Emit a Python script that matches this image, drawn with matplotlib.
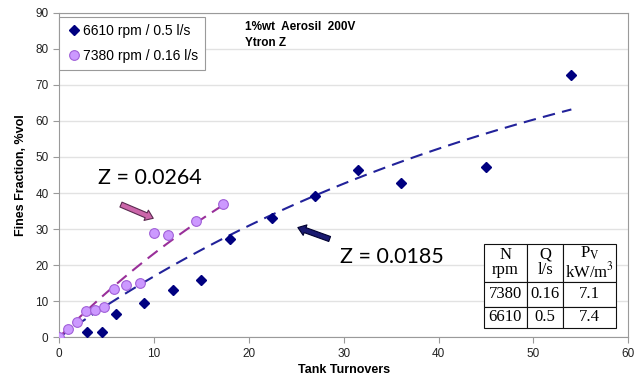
import matplotlib
matplotlib.use("Agg")
import matplotlib.pyplot as plt
import numpy as np
from matplotlib.patches import FancyArrowPatch

# 6610 rpm / 0.5 l/s
turnovers_6610 = [3, 4.5, 6, 9, 12, 15, 18, 22.5, 27, 31.5, 36, 45, 54]
fines_6610 = [1.5, 1.5, 6.6, 9.6, 13.0, 15.8, 27.2, 33.0, 39.2, 46.4, 42.7, 47.3, 72.7]

# 7380 rpm / 0.16 l/s
turnovers_7380 = [0, 0.95, 1.9, 2.85, 3.8, 4.75, 5.75, 7.1, 8.5, 10.0, 11.5, 14.4, 17.3]
fines_7380 = [0, 2.3, 4.2, 7.3, 7.6, 8.4, 13.3, 14.5, 15.1, 29.0, 28.3, 32.2, 36.9]

# model curves  F = 100 (1 - exp(-Z N))
z_6610 = 0.0185
z_7380 = 0.0264
range_6610 = [0, 54]
range_7380 = [0, 17.3]

series_labels = ["6610 rpm / 0.5 l/s", "7380 rpm / 0.16 l/s"]

table_rows = [
    ["N\nrpm", "Q\nl/s", "P$_\\mathrm{V}$\nkW/m$^3$"],
    ["7380", "0.16", "7.1"],
    ["6610", "0.5", "7.4"],
]

plt.rcParams["font.family"] = ["Liberation Sans", "DejaVu Sans"]
plt.rcParams["mathtext.fontset"] = "stix"

fig = plt.figure(figsize=(6.4, 3.9), dpi=100)
ax = fig.add_axes([0.0922, 0.1351, 0.8895, 0.8323])

ax.plot(turnovers_6610, fines_6610, linestyle="none", marker="D", markersize=5.3,
        color="#000080", label=series_labels[0], zorder=4)
ax.plot(turnovers_7380, fines_7380, linestyle="none", marker="o", markersize=7,
        markerfacecolor="#cc99ff", markeredgecolor="#a060d8", markeredgewidth=0.8,
        label=series_labels[1], zorder=5)

n1 = np.linspace(*range_6610, 100)
ax.plot(n1, 100 * (1 - np.exp(-z_6610 * n1)), color="#22229a", lw=1.5,
        dashes=(6, 3.5), zorder=3)
n2 = np.linspace(*range_7380, 100)
ax.plot(n2, 100 * (1 - np.exp(-z_7380 * n2)), color="#992f99", lw=1.5,
        dashes=(6, 3.5), zorder=3)

ax.set_xlim(0, 60)
ax.set_ylim(0, 90)
ax.set_xticks(np.arange(0, 61, 10))
ax.set_yticks(np.arange(0, 91, 10))
ax.yaxis.grid(True, color="#e2e2e2", lw=1)
ax.set_axisbelow(True)
for s in ax.spines.values():
    s.set_color("#9a9a9a")
ax.tick_params(direction="out", length=4, color="#9a9a9a", labelsize=8.5,
               labelcolor="#222222")
ax.set_xlabel("Tank Turnovers", fontsize=9, fontweight="bold", labelpad=3)
ax.set_ylabel("Fines Fraction, %vol", fontsize=9, fontweight="bold", labelpad=6)

leg = ax.legend(loc="upper left", bbox_to_anchor=(0.0, 0.988), borderaxespad=0,
                fontsize=10, labelspacing=0.75, handletextpad=0.15, handlelength=1.0,
                fancybox=False, edgecolor="#9a9a9a", framealpha=1,
                borderpad=0.55)
leg.get_frame().set_linewidth(0.8)

ax.text(0.327, 0.956, "1%wt  Aerosil  200V", transform=ax.transAxes,
        fontsize=8.5, fontweight="bold", va="center")
ax.text(0.327, 0.907, "Ytron Z", transform=ax.transAxes,
        fontsize=8.5, fontweight="bold", va="center")

ax.text(0.0685, 0.491, "Z = 0.0264", transform=ax.transAxes, fontsize=15.5,
        family=["Lato", "DejaVu Sans"], va="center")
ax.text(0.494, 0.248, "Z = 0.0185", transform=ax.transAxes, fontsize=15.5,
        family=["Lato", "DejaVu Sans"], va="center")

arrow_style = "simple,head_width=8,head_length=5.5,tail_width=3.8"
ax.add_patch(FancyArrowPatch((6.26, 37.1), (10.2, 32.7), arrowstyle=arrow_style,
                             facecolor="#cc66aa", edgecolor="#5a2a50", lw=0.8,
                             mutation_scale=1, zorder=6))
ax.add_patch(FancyArrowPatch((28.8, 27.0), (24.9, 30.7), arrowstyle=arrow_style,
                             facecolor="#1a1a70", edgecolor="#000030", lw=0.8,
                             mutation_scale=1, zorder=6))

tbl = ax.table(cellText=table_rows, cellLoc="center",
               bbox=[0.746, 0.028, 0.233, 0.26], zorder=7)
tbl.auto_set_font_size(False)
col_w = [43.4, 36, 53.3]
row_h = [37.7, 25, 21.6]
for (r, c), cell in tbl.get_celld().items():
    cell.set_width(col_w[c])
    cell.set_height(row_h[r])
    cell.set_facecolor("white")
    cell.set_edgecolor("#111111")
    cell.set_linewidth(0.8)
    cell.PAD = 0.02
    cell.get_text().set_fontsize(12)
    cell.get_text().set_family(["Liberation Serif", "DejaVu Serif"])
    if r == 0:
        cell.get_text().set_linespacing(0.95)

fig.savefig("out.png", dpi=100)
